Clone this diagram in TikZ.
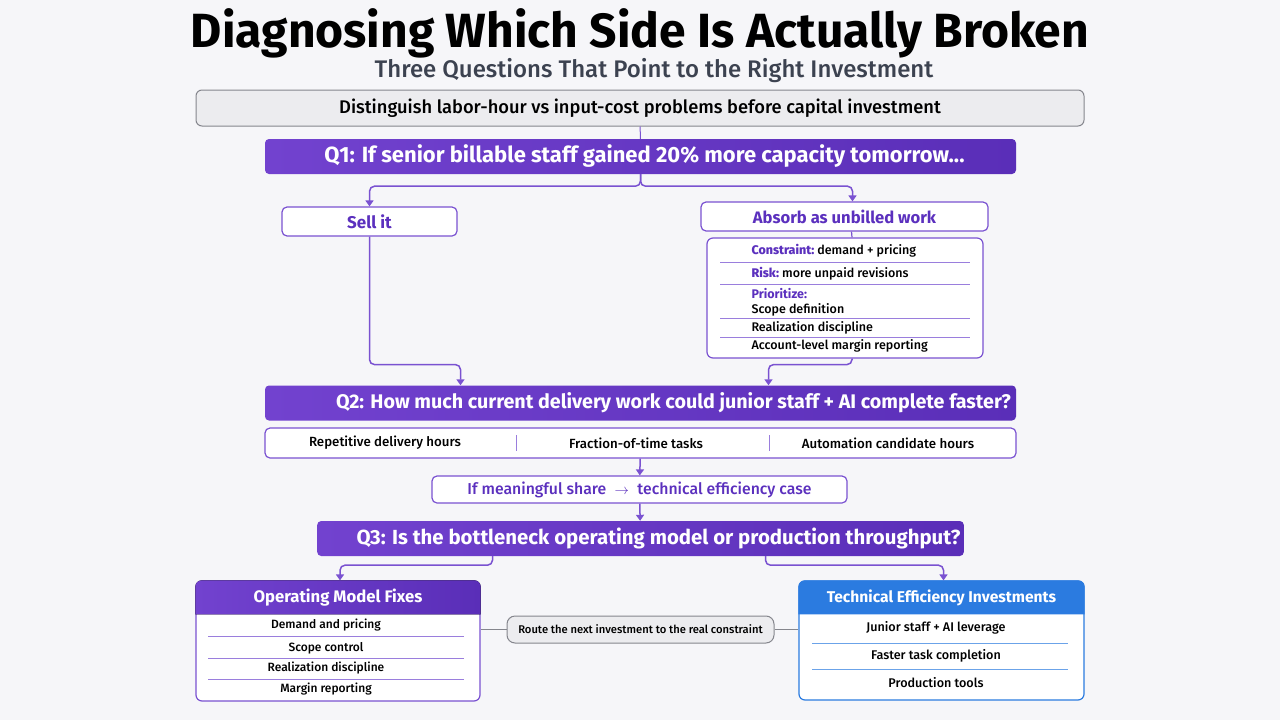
\documentclass[tikz,border=0pt]{standalone}
\usepackage{fontspec}
\setmainfont{Fira Sans}
\newfontfamily\medfont{Fira Sans Medium}
\usetikzlibrary{arrows.meta,positioning,calc,backgrounds}
\definecolor{qpurple}{HTML}{7242CF}
\definecolor{qpurpledark}{HTML}{5A2EB8}
\definecolor{linepurple}{HTML}{7A52D1}
\definecolor{textpurple}{HTML}{5B30BE}
\definecolor{seppurple}{HTML}{9A7EDD}
\definecolor{techblue}{HTML}{2B7BE0}
\definecolor{pagebg}{HTML}{F6F6F9}
\definecolor{boxgrey}{HTML}{ECECEF}
\definecolor{edgegrey}{HTML}{85868D}
\definecolor{subink}{HTML}{3C4250}
\newcommand{\fs}[1]{\fontsize{#1}{#1}\selectfont}

\begin{document}
\begin{tikzpicture}[
    x=1pt, y=-1pt,
    question/.style={rectangle, rounded corners=4pt, left color=qpurple, right color=qpurpledark, text=white, font=\fs{21}\bfseries, minimum height=35pt},
    answer/.style={rectangle, rounded corners=5pt, draw=linepurple, line width=1.2pt, fill=white, text=textpurple, font=\fs{17}\bfseries, minimum height=29pt},
    panel/.style={rectangle, rounded corners=6pt, line width=1.2pt, fill=white},
    item/.style={font=\medfont\fs{12.5}, text=black},
    note/.style={rectangle, rounded corners=6pt, draw=edgegrey, line width=1pt, fill=boxgrey},
    arrow/.style={-{Triangle[length=6pt,width=8pt]}, draw=linepurple, line width=1.5pt, rounded corners=5pt},
    link/.style={draw=linepurple, line width=1.5pt, rounded corners=5pt},
    sep/.style={draw=seppurple, line width=0.8pt}
]
\useasboundingbox (0,0) rectangle (1280,720);
\begin{scope}[on background layer]
\fill[pagebg] (0,0) rectangle (1280,720);
\end{scope}

% titles
\node[font=\fs{48}\bfseries, text=black] (title) at (640,33) {Diagnosing Which Side Is Actually Broken};
\node[font=\medfont\fs{24}, text=subink] (subtitle) at (654,71) {Three Questions That Point to the Right Investment};

% top note and Q1
\node[note, minimum width=888pt, minimum height=36pt, font=\medfont\fs{18.3}] (topnote) at (640,108) {Distinguish labor-hour vs input-cost problems before capital investment};
\node[question, minimum width=751pt, font=\fs{22}\bfseries] (q1) at (640.5,156.5) {\hspace*{8pt}Q1: If senior billable staff gained 20\% more capacity tomorrow...};
\draw[link, line width=1pt] (topnote) -- (q1);

% answers to Q1
\node[answer, minimum width=175pt] (sell) at (369.5,221.5) {Sell it};
\node[answer, minimum width=287pt, font=\fs{16.6}\bfseries] (absorb) at (844.5,216.5) {Absorb as unbilled work};
\node[panel, draw=linepurple, minimum width=276pt, minimum height=120pt] (detail) at (845,298) {};
\draw[arrow] (q1.south) -- ++(0,12) -| (sell.north);
\draw[arrow] (q1.south) -- ++(0,12) -| ([xshift=8pt]absorb.north);
\draw[link, line width=1.2pt] ([xshift=7pt]absorb.south) -- ([xshift=7pt]detail.north);

% details of absorbing
\node[item, anchor=west] (cons) at (748,251) {\textcolor{textpurple}{\bfseries Constraint:}\ demand + pricing};
\node[item, anchor=west] (risk) at (748,274) {\textcolor{textpurple}{\bfseries Risk:}\ more unpaid revisions};
\node[item, anchor=west, text=textpurple, font=\fs{12.5}\bfseries] (prio) at (748,294) {Prioritize:};
\node[item, anchor=west] (scope) at (748,310) {Scope definition};
\node[item, anchor=west] (real) at (748,328) {Realization discipline};
\node[item, anchor=west] (acct) at (748,346) {Account-level margin reporting};
\foreach \yy in {262,284,318,337}
  \draw[sep] (720,\yy) -- (970,\yy);

% Q2
\node[question, minimum width=751pt, font=\fs{19.7}\bfseries] (q2) at (640.5,403) {\hspace*{66pt}Q2: How much current delivery work could junior staff + AI complete faster?};
\draw[arrow] (sell.south) -- ++(0,128) -| ([xshift=-180pt]q2.north);
\draw[arrow] ([xshift=7pt]detail.south) -- ++(0,6) -| ([xshift=128pt]q2.north);

\node[panel, draw=linepurple, rounded corners=5pt, minimum width=751pt, minimum height=30pt] (hours) at (640.5,443) {};
\node[item, font=\medfont\fs{13.3}] (rep) at (385,443) {Repetitive delivery hours};
\node[item, font=\medfont\fs{13.3}] (frac) at (636,443) {Fraction-of-time tasks};
\node[item, font=\medfont\fs{13.3}] (auto) at (888,443) {Automation candidate hours};
\draw[sep] (516,435) -- (516,451);
\draw[sep] (769,435) -- (769,451);

\node[answer, minimum width=415pt, minimum height=27pt, font=\medfont\fs{15.8}] (share) at (639.5,489.5) {If meaningful share \;$\rightarrow$\; technical efficiency case};
\draw[arrow] (hours) -- (share);

% Q3
\node[question, minimum width=645pt, font=\fs{20.4}\bfseries] (q3) at (640.5,538.5) {\hspace*{36pt}Q3: Is the bottleneck operating model or production throughput?};
\draw[arrow] (share) -- (q3);

% operating model fixes
\node[panel, draw=linepurple, minimum width=284pt, minimum height=120pt] (opfix) at (338,641) {};
\fill[left color=qpurple, right color=qpurpledark] ([yshift=-34pt]opfix.north west) {[rounded corners=6pt] -- (opfix.north west) -- (opfix.north east)} -- ([yshift=-34pt]opfix.north east) -- cycle;
\node[text=white, font=\fs{16.7}\bfseries] (ophead) at ([yshift=-17pt]opfix.north) {Operating Model Fixes};
\node[item, font=\medfont\fs{12}] (op1) at (326,625) {Demand and pricing};
\node[item, font=\medfont\fs{12}] (op2) at (326,648) {Scope control};
\node[item, font=\medfont\fs{12}] (op3) at (326,668) {Realization discipline};
\node[item, font=\medfont\fs{12}] (op4) at (326,689) {Margin reporting};
\foreach \yy in {636,658,679}
  \draw[sep] (208,\yy) -- (464,\yy);

% technical efficiency investments
\node[panel, draw=techblue, minimum width=285pt, minimum height=119pt] (techinv) at (941.5,640.5) {};
\fill[techblue] ([yshift=-34pt]techinv.north west) {[rounded corners=6pt] -- (techinv.north west) -- (techinv.north east)} -- ([yshift=-34pt]techinv.north east) -- cycle;
\node[text=white, font=\fs{15.6}\bfseries] (techhead) at ([yshift=-17pt]techinv.north) {Technical Efficiency Investments};
\node[item, font=\medfont\fs{12.6}] (te1) at (936,628) {Junior staff + AI leverage};
\node[item, font=\medfont\fs{12.6}] (te2) at (936,656) {Faster task completion};
\node[item, font=\medfont\fs{12.6}] (te3) at (936,683) {Production tools};
\foreach \yy in {643,669}
  \draw[draw=techblue!70, line width=0.8pt] (812,\yy) -- (1068,\yy);

\draw[arrow] ([xshift=-148pt]q3.south) -- ++(0,9) -| ([xshift=2pt]opfix.north);
\draw[arrow] ([xshift=125pt]q3.south) -- ++(0,9) -| ([xshift=2pt]techinv.north);

% route pill
\node[note, rounded corners=8pt, minimum width=267pt, minimum height=27pt, font=\medfont\fs{11.2}] (route) at (640.5,629.5) {Route the next investment to the real constraint};
\draw[edgegrey, line width=1.2pt] (route.west -| opfix.east) -- (route.west);
\draw[edgegrey, line width=1.2pt] (route.east) -- (route.east -| techinv.west);
\end{tikzpicture}
\end{document}
